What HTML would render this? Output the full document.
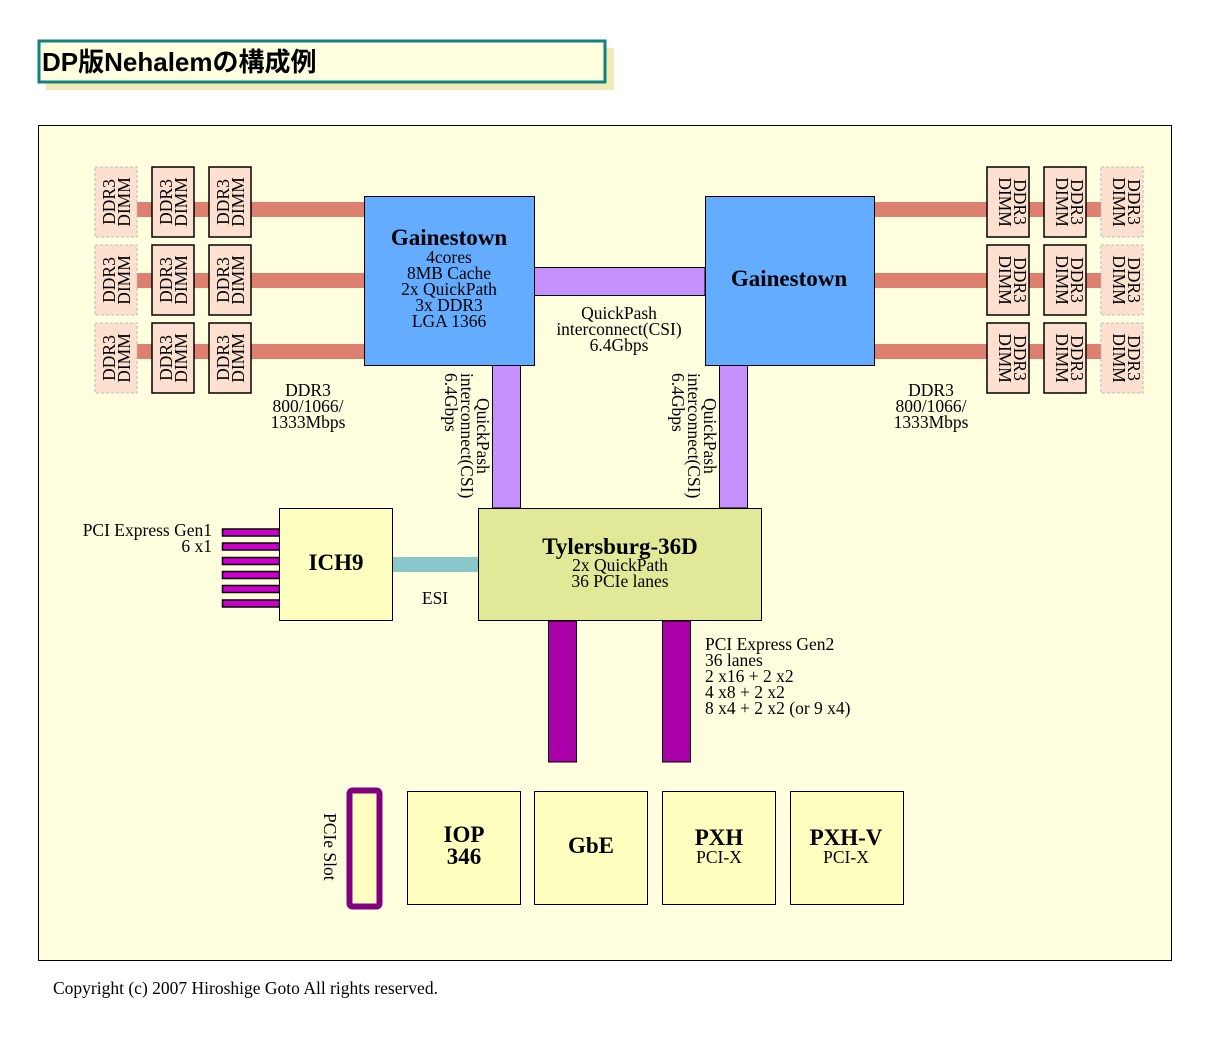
<!DOCTYPE html>
<html><head><meta charset="utf-8"><style>
html,body{margin:0;padding:0;background:#fff;}
svg{display:block;font-family:"Liberation Serif",serif;}
</style></head><body>
<svg width="1232" height="1062" viewBox="0 0 1232 1062" xmlns="http://www.w3.org/2000/svg">
<rect x="0" y="0" width="1232" height="1062" fill="#fff"/>
<!-- title -->
<rect x="46" y="48" width="568" height="42" fill="#f0ecb8"/>
<rect x="39" y="41" width="566" height="41" fill="#ffffe0" stroke="#108080" stroke-width="3"/>
<text x="42" y="71" font-family="Liberation Sans,'Noto Sans CJK JP',sans-serif" font-size="26" font-weight="bold" fill="#000">DP版Nehalemの構成例</text>
<!-- frame -->
<rect x="38.5" y="125.5" width="1133" height="835" fill="#ffffe0" stroke="#000" stroke-width="1"/>
<!-- DDR bars -->
<g fill="#dd8070">
<rect x="137" y="202" width="228" height="15"/><rect x="137" y="273" width="228" height="15"/><rect x="137" y="344" width="228" height="15"/>
<rect x="874" y="202" width="227" height="15"/><rect x="874" y="273" width="227" height="15"/><rect x="874" y="344" width="227" height="15"/>
</g>
<!-- QPI -->
<g fill="#c690ff" stroke="#000" stroke-width="1">
<rect x="534" y="267.5" width="171" height="28"/>
<rect x="492.5" y="365" width="28" height="143"/>
<rect x="719.5" y="365" width="28" height="143"/>
</g>
<!-- Gainestown -->
<rect x="364.5" y="196.5" width="170" height="169" fill="#63acff" stroke="#000"/>
<rect x="705.5" y="196.5" width="169" height="169" fill="#63acff" stroke="#000"/>
<g text-anchor="middle" font-size="17.5">
<text x="449" y="245" font-size="23" font-weight="bold">Gainestown</text>
<text x="449" y="263">4cores</text>
<text x="449" y="279">8MB Cache</text>
<text x="449" y="295">2x QuickPath</text>
<text x="449" y="311">3x DDR3</text>
<text x="449" y="327">LGA 1366</text>
<text x="789" y="286" font-size="23" font-weight="bold">Gainestown</text>
<text x="619" y="319">QuickPash</text>
<text x="619" y="335">interconnect(CSI)</text>
<text x="619" y="351">6.4Gbps</text>
<text x="308" y="396">DDR3</text>
<text x="308" y="412">800/1066/</text>
<text x="308" y="428">1333Mbps</text>
<text x="931" y="396">DDR3</text>
<text x="931" y="412">800/1066/</text>
<text x="931" y="428">1333Mbps</text>
</g>
<!-- vertical QPI labels -->
<g font-size="17.5">
<text transform="translate(477,398) rotate(90)">QuickPash</text>
<text transform="translate(461,373) rotate(90)">interconnect(CSI)</text>
<text transform="translate(445,373) rotate(90)">6.4Gbps</text>
<text transform="translate(704,398) rotate(90)">QuickPash</text>
<text transform="translate(688,373) rotate(90)">interconnect(CSI)</text>
<text transform="translate(672,373) rotate(90)">6.4Gbps</text>
</g>
<!-- DIMMs -->
<g fill="#fde0d0" stroke="#000" stroke-width="1.5">
<rect x="152" y="167" width="42" height="70"/><rect x="209" y="167" width="42" height="70"/>
<rect x="152" y="245" width="42" height="70"/><rect x="209" y="245" width="42" height="70"/>
<rect x="152" y="323" width="42" height="70"/><rect x="209" y="323" width="42" height="70"/>
<rect x="987" y="167" width="42" height="70"/><rect x="1044" y="167" width="42" height="70"/>
<rect x="987" y="245" width="42" height="70"/><rect x="1044" y="245" width="42" height="70"/>
<rect x="987" y="323" width="42" height="70"/><rect x="1044" y="323" width="42" height="70"/>
</g>
<g fill="#fde0d0" stroke="#bbb" stroke-width="1" stroke-dasharray="3,2">
<rect x="95" y="167" width="42" height="70"/><rect x="95" y="245" width="42" height="70"/><rect x="95" y="323" width="42" height="70"/>
<rect x="1101" y="167" width="42" height="70"/><rect x="1101" y="245" width="42" height="70"/><rect x="1101" y="323" width="42" height="70"/>
</g>
<g font-size="17.5" text-anchor="middle">
<text transform="translate(115,202) rotate(-90)">DDR3</text><text transform="translate(130,202) rotate(-90)">DIMM</text>
<text transform="translate(172,202) rotate(-90)">DDR3</text><text transform="translate(187,202) rotate(-90)">DIMM</text>
<text transform="translate(229,202) rotate(-90)">DDR3</text><text transform="translate(244,202) rotate(-90)">DIMM</text>
<text transform="translate(115,280) rotate(-90)">DDR3</text><text transform="translate(130,280) rotate(-90)">DIMM</text>
<text transform="translate(172,280) rotate(-90)">DDR3</text><text transform="translate(187,280) rotate(-90)">DIMM</text>
<text transform="translate(229,280) rotate(-90)">DDR3</text><text transform="translate(244,280) rotate(-90)">DIMM</text>
<text transform="translate(115,358) rotate(-90)">DDR3</text><text transform="translate(130,358) rotate(-90)">DIMM</text>
<text transform="translate(172,358) rotate(-90)">DDR3</text><text transform="translate(187,358) rotate(-90)">DIMM</text>
<text transform="translate(229,358) rotate(-90)">DDR3</text><text transform="translate(244,358) rotate(-90)">DIMM</text>
<text transform="translate(1014,202) rotate(90)">DDR3</text><text transform="translate(999,202) rotate(90)">DIMM</text>
<text transform="translate(1071,202) rotate(90)">DDR3</text><text transform="translate(1056,202) rotate(90)">DIMM</text>
<text transform="translate(1128,202) rotate(90)">DDR3</text><text transform="translate(1113,202) rotate(90)">DIMM</text>
<text transform="translate(1014,280) rotate(90)">DDR3</text><text transform="translate(999,280) rotate(90)">DIMM</text>
<text transform="translate(1071,280) rotate(90)">DDR3</text><text transform="translate(1056,280) rotate(90)">DIMM</text>
<text transform="translate(1128,280) rotate(90)">DDR3</text><text transform="translate(1113,280) rotate(90)">DIMM</text>
<text transform="translate(1014,358) rotate(90)">DDR3</text><text transform="translate(999,358) rotate(90)">DIMM</text>
<text transform="translate(1071,358) rotate(90)">DDR3</text><text transform="translate(1056,358) rotate(90)">DIMM</text>
<text transform="translate(1128,358) rotate(90)">DDR3</text><text transform="translate(1113,358) rotate(90)">DIMM</text>
</g>
<!-- PCIe gen1 lanes -->
<g fill="#cc00cc" stroke="#000" stroke-width="1.5">
<rect x="222.5" y="529" width="57" height="7"/><rect x="222.5" y="543" width="57" height="7"/>
<rect x="222.5" y="557.5" width="57" height="7"/><rect x="222.5" y="571.5" width="57" height="7"/>
<rect x="222.5" y="585.5" width="57" height="7"/><rect x="222.5" y="600" width="57" height="7"/>
</g>
<rect x="392" y="557" width="86" height="15" fill="#88c8c8"/>
<rect x="279.5" y="508.5" width="113" height="112" fill="#ffffc0" stroke="#000"/>
<rect x="478.5" y="508.5" width="283" height="112" fill="#e1e897" stroke="#000"/>
<rect x="548.5" y="621" width="28" height="141" fill="#aa00aa" stroke="#000"/>
<rect x="662.5" y="621" width="28" height="141" fill="#aa00aa" stroke="#000"/>
<g font-size="17.5">
<text x="212" y="536" text-anchor="end">PCI Express Gen1</text>
<text x="212" y="552" text-anchor="end">6 x1</text>
<text x="435" y="604" text-anchor="middle">ESI</text>
<text x="336" y="570" text-anchor="middle" font-size="23" font-weight="bold">ICH9</text>
<text x="620" y="554" text-anchor="middle" font-size="23" font-weight="bold">Tylersburg-36D</text>
<text x="620" y="571" text-anchor="middle">2x QuickPath</text>
<text x="620" y="587" text-anchor="middle">36 PCIe lanes</text>
<text x="705" y="650">PCI Express Gen2</text>
<text x="705" y="666">36 lanes</text>
<text x="705" y="682">2 x16 + 2 x2</text>
<text x="705" y="698">4 x8 + 2 x2</text>
<text x="705" y="714">8 x4 + 2 x2 (or 9 x4)</text>
</g>
<rect x="349.5" y="790.5" width="30" height="116" rx="3" fill="#ffffc0" stroke="#800080" stroke-width="6"/>
<text transform="translate(324,813) rotate(90)" font-size="17.5">PCIe Slot</text>
<g fill="#ffffc0" stroke="#000">
<rect x="407.5" y="791.5" width="113" height="113"/>
<rect x="534.5" y="791.5" width="113" height="113"/>
<rect x="662.5" y="791.5" width="113" height="113"/>
<rect x="790.5" y="791.5" width="113" height="113"/>
</g>
<g text-anchor="middle" font-size="23" font-weight="bold">
<text x="464" y="842">IOP</text>
<text x="464" y="864">346</text>
<text x="591" y="853">GbE</text>
<text x="719" y="845">PXH</text>
<text x="846" y="845">PXH-V</text>
</g>
<g text-anchor="middle" font-size="17.5">
<text x="719" y="863">PCI-X</text>
<text x="846" y="863">PCI-X</text>
</g>
<text x="53" y="994" font-size="17.5">Copyright (c) 2007 Hiroshige Goto All rights reserved.</text>
</svg>
</body></html>
